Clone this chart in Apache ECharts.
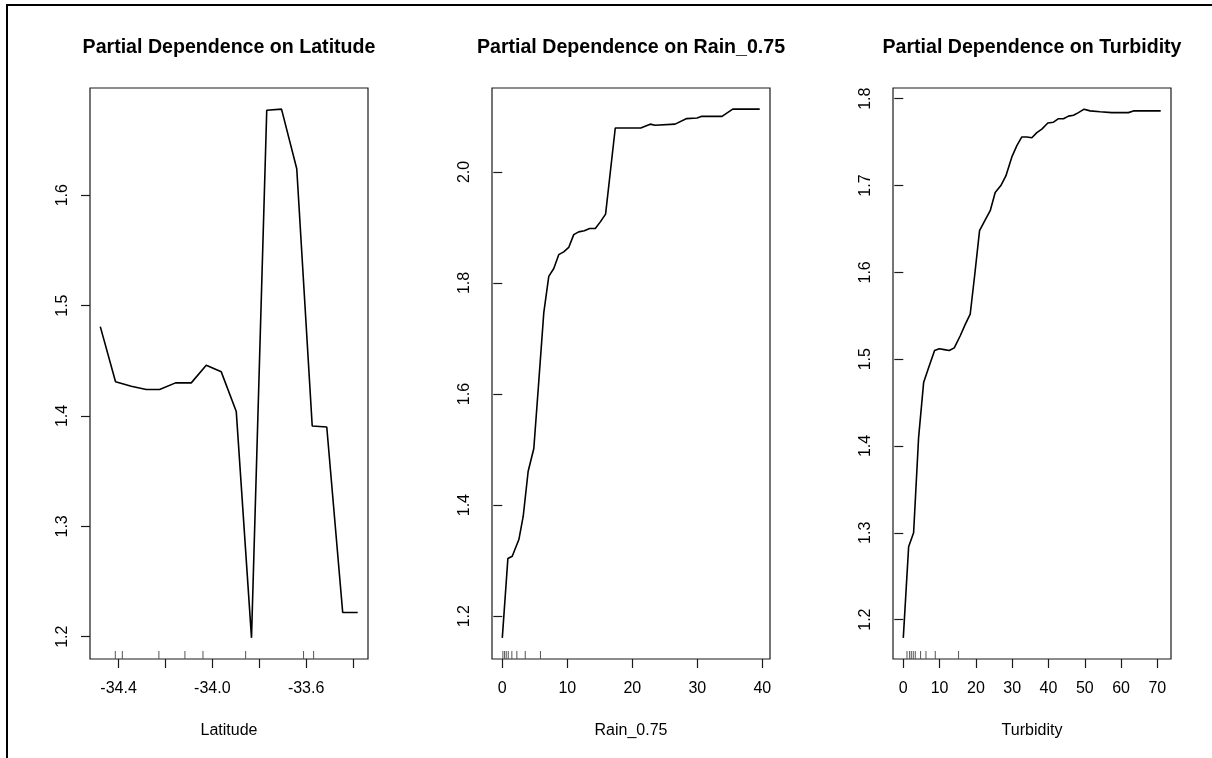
<!DOCTYPE html>
<html>
<head>
<meta charset="utf-8">
<title>Partial Dependence</title>
<script src="https://cdn.jsdelivr.net/npm/echarts@6/dist/echarts.min.js"></script>
<style>
  html, body { margin: 0; padding: 0; background: #fff; }
  #chart { width: 1212px; height: 758px; }
</style>
</head>
<body>
<div id="chart"></div>
<script>
// Partial dependence curves (random forest) for three predictors.

// Latitude
const latX = [-34.478, -34.413, -34.346, -34.282, -34.225, -34.157, -34.090, -34.026, -33.962,
              -33.898, -33.833, -33.768, -33.705, -33.640, -33.574, -33.512, -33.444, -33.380];
const latY = [1.481, 1.431, 1.427, 1.424, 1.424, 1.430, 1.430, 1.446, 1.440,
              1.404, 1.199, 1.677, 1.678, 1.624, 1.391, 1.390, 1.222, 1.222];
const latRug = [-34.414, -34.384, -34.228, -34.117, -34.040, -33.858, -33.611, -33.568];
const latTicks = [-34.4, -34.2, -34.0, -33.8, -33.6, -33.4];
const latLabels = [-34.4, -34.0, -33.6];
const latYTicks = [1.2, 1.3, 1.4, 1.5, 1.6];

// Rain_0.75
const rainX = [0.0, 0.86, 1.53, 2.55, 3.22, 3.98, 4.85, 5.62, 6.38, 7.15, 7.92, 8.68, 9.45,
               10.22, 10.99, 11.75, 12.62, 13.44, 14.31, 15.08, 15.89, 17.38, 21.3, 22.75,
               23.5, 26.58, 28.37, 29.96, 30.7, 33.8, 35.45, 39.6];
const rainY = [1.161, 1.304, 1.308, 1.338, 1.380, 1.461, 1.502, 1.624, 1.746, 1.812, 1.826,
               1.851, 1.856, 1.864, 1.887, 1.892, 1.894, 1.898, 1.898, 1.910, 1.924, 2.079,
               2.079, 2.086, 2.084, 2.086, 2.096, 2.097, 2.100, 2.100, 2.113, 2.113];
const rainRug = [0.09, 0.35, 0.61, 0.92, 1.47, 2.24, 3.53, 5.87];
const rainTicks = [0, 10, 20, 30, 40];
const rainYTicks = [1.2, 1.4, 1.6, 1.8, 2.0];

// Turbidity
const turbX = [0.0, 1.47, 2.84, 4.22, 5.60, 6.97, 8.62, 9.91, 11.29, 12.66, 14.04, 15.69,
               17.07, 18.44, 19.73, 21.01, 22.39, 23.95, 25.32, 26.88, 28.26, 29.91, 31.29,
               32.66, 34.04, 35.42, 36.79, 38.17, 39.82, 41.38, 42.76, 44.13, 45.51, 46.89,
               48.26, 49.82, 51.47, 54.22, 57.43, 62.02, 63.40, 70.92];
const turbY = [1.179, 1.284, 1.300, 1.410, 1.473, 1.490, 1.510, 1.512, 1.511, 1.510, 1.513,
               1.527, 1.540, 1.552, 1.599, 1.648, 1.659, 1.671, 1.692, 1.700, 1.711, 1.733,
               1.746, 1.756, 1.756, 1.755, 1.761, 1.765, 1.772, 1.773, 1.777, 1.777, 1.780,
               1.781, 1.784, 1.788, 1.786, 1.785, 1.784, 1.784, 1.786, 1.786];
const turbRug = [1.02, 1.74, 2.2, 2.75, 3.3, 4.77, 6.25, 8.81, 15.23];
const turbTicks = [0, 10, 20, 30, 40, 50, 60, 70];
const turbYTicks = [1.2, 1.3, 1.4, 1.5, 1.6, 1.7, 1.8];

const titles = ['Partial Dependence on Latitude', 'Partial Dependence on Rain_0.75',
                'Partial Dependence on Turbidity'];
const xNames = ['Latitude', 'Rain_0.75', 'Turbidity'];

const FONT = '"Liberation Sans", Arial, Helvetica, sans-serif';

// Axis range padded by 4% on each side, as R's default plot does
function padded(arr) {
  const lo = Math.min(...arr), hi = Math.max(...arr);
  const d = (hi - lo) * 0.04;
  return [lo - d, hi + d];
}

const panels = [
  { x: latX, y: latY, rug: latRug, xt: latTicks, xl: latLabels, yt: latYTicks, left: 90 },
  { x: rainX, y: rainY, rug: rainRug, xt: rainTicks, xl: rainTicks, yt: rainYTicks, left: 492 },
  { x: turbX, y: turbY, rug: turbRug, xt: turbTicks, xl: turbTicks, yt: turbYTicks, left: 893 }
];

const PLOT_W = 278, PLOT_TOP = 88, PLOT_H = 571;

const grid = [], xAxis = [], yAxis = [], series = [], title = [];

panels.forEach((p, i) => {
  const xr = padded(p.x);
  const yr = padded(p.y);
  const fmt = (i === 0) ? (v => v.toFixed(1)) : (v => String(Math.round(v)));

  grid.push({
    left: p.left, top: PLOT_TOP, width: PLOT_W, height: PLOT_H,
    show: true, borderColor: '#1a1a1a', borderWidth: 1.2, backgroundColor: 'transparent'
  });
  title.push({
    text: titles[i], left: p.left + PLOT_W / 2, top: 38, textAlign: 'center', padding: 0,
    textStyle: { fontFamily: FONT, fontSize: 19.6, fontWeight: 'bold', color: '#000' }
  });
  xAxis.push({
    type: 'value', gridIndex: i, min: xr[0], max: xr[1],
    name: xNames[i], nameLocation: 'middle', nameGap: 64,
    nameTextStyle: { fontFamily: FONT, fontSize: 16, color: '#000' },
    axisLine: { show: false },
    splitLine: { show: false },
    axisTick: { show: true, inside: false, length: 9, customValues: p.xt,
                lineStyle: { color: '#1a1a1a', width: 1.2 } },
    axisLabel: { show: true, customValues: p.xl, margin: 22, formatter: fmt,
                 fontFamily: FONT, fontSize: 16, color: '#000' }
  });
  yAxis.push({
    type: 'value', gridIndex: i, min: yr[0], max: yr[1],
    axisLine: { show: false },
    splitLine: { show: false },
    axisTick: { show: true, inside: false, length: 9, customValues: p.yt,
                lineStyle: { color: '#1a1a1a', width: 1.2 } },
    axisLabel: { show: true, customValues: p.yt, rotate: 90, margin: 19,
                 formatter: v => v.toFixed(1),
                 fontFamily: FONT, fontSize: 16, color: '#000' }
  });
  series.push({
    type: 'line', xAxisIndex: i, yAxisIndex: i,
    data: p.x.map((v, k) => [v, p.y[k]]),
    showSymbol: false, symbol: 'none', silent: true, animation: false,
    lineStyle: { color: '#000', width: 1.6 }
  });
  // rug of decile positions along the bottom edge
  series.push({
    type: 'custom', xAxisIndex: i, yAxisIndex: i, silent: true, animation: false,
    data: p.rug.map(v => [v, yr[0]]),
    renderItem: (params, api) => {
      const pt = api.coord([api.value(0), api.value(1)]);
      return {
        type: 'line',
        shape: { x1: pt[0], y1: pt[1], x2: pt[0], y2: pt[1] - 8 },
        style: { stroke: '#555', lineWidth: 1 }
      };
    }
  });
});

const chart = echarts.init(document.getElementById('chart'), null, { renderer: 'canvas' });
chart.setOption({
  animation: false,
  backgroundColor: '#fff',
  title, grid, xAxis, yAxis, series,
  graphic: [{
    type: 'polyline',
    shape: { points: [[7, 758], [7, 5], [1212, 5]] },
    style: { stroke: '#000', lineWidth: 2, fill: null },
    silent: true
  }]
});
</script>
</body>
</html>
